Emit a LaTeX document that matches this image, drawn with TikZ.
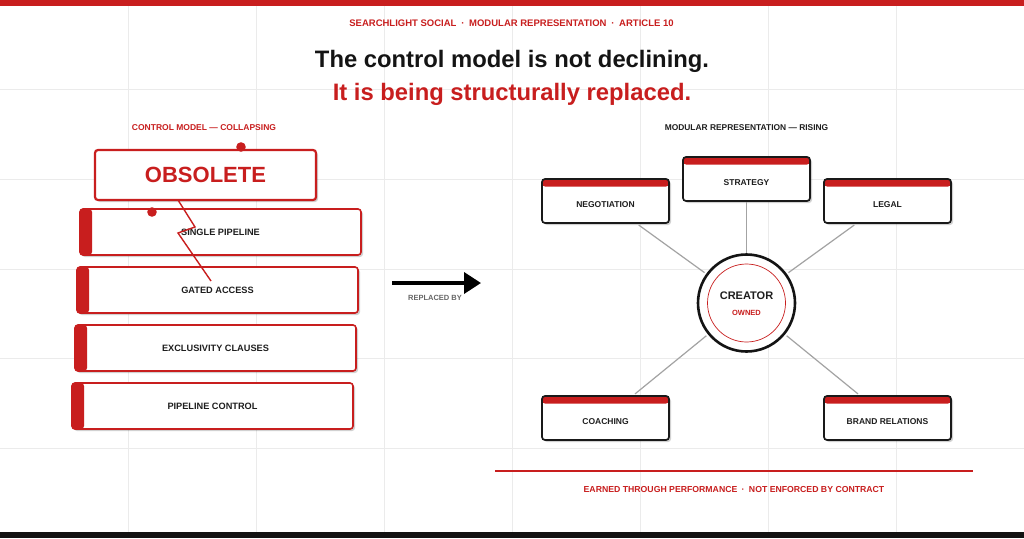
\documentclass[tikz,border=0pt]{standalone}
\usepackage{fontspec}
\setmainfont{Liberation Sans}
\usetikzlibrary{arrows.meta,shadows}
\definecolor{cred}{HTML}{C81E1E}
\definecolor{ink}{HTML}{1E1E1E}
\definecolor{gridc}{HTML}{EBEBEB}
\definecolor{spokec}{HTML}{A3A3A3}
\definecolor{graytxt}{HTML}{666666}
\begin{document}
\begin{tikzpicture}[x=1pt,y=-1pt,
  softshadow/.style={drop shadow={shadow xshift=2pt, shadow yshift=-2pt, fill=black, opacity=0.18}},
  oldbox/.style={draw=cred, line width=1.6pt, rounded corners=3pt, fill=white,
    minimum width=281pt, minimum height=46pt, inner sep=0pt,
    font=\fontsize{9.2}{11}\selectfont\bfseries, text=ink, softshadow,
    path picture={\fill[cred] (path picture bounding box.north west) rectangle ([xshift=12pt]path picture bounding box.south west);}},
  modbox/.style={draw=black!90, line width=1.7pt, rounded corners=3pt, fill=white,
    minimum width=127pt, minimum height=44pt, inner sep=0pt,
    font=\fontsize{8.5}{10}\selectfont\bfseries, text=ink, softshadow,
    path picture={\fill[cred] (path picture bounding box.north west) rectangle ([yshift=-7.5pt]path picture bounding box.north east);}},
  spoke/.style={draw=spokec, line width=1.2pt, shorten <=2pt, shorten >=2pt},
  txt/.style={anchor=base, inner sep=0pt}
]
\useasboundingbox (0,0) rectangle (1024,538);
\fill[white] (0,0) rectangle (1024,538);
% grid
\foreach \gx in {128,256,384,512,640,768,896} \draw[gridc, line width=0.9pt] (\gx,0) -- (\gx,538);
\foreach \gy in {89.7,179.3,269,358.7,448.3} \draw[gridc, line width=0.9pt] (0,\gy) -- (1024,\gy);
% bars
\fill[cred] (0,0) rectangle (1024,5.5);
\fill[black!93] (0,532) rectangle (1024,538);

% header and titles
\node[txt, text=cred, font=\fontsize{9.5}{11}\selectfont\bfseries] (hdr) at (511.5,27)
  {SEARCHLIGHT SOCIAL\enspace·\enspace MODULAR REPRESENTATION\enspace·\enspace ARTICLE 10};
\node[txt, text=black!92, font=\fontsize{23.8}{28}\selectfont\bfseries] (t1) at (512,67) {The control model is not declining.};
\node[txt, text=cred, font=\fontsize{23.8}{28}\selectfont\bfseries] (t2) at (512,100) {It is being structurally replaced.};

% left panel
\node[txt, text=cred, font=\fontsize{8.5}{10}\selectfont\bfseries] (lhead) at (204,130) {CONTROL MODEL — COLLAPSING};
\node[oldbox] (b1) at (220.5,232) {SINGLE PIPELINE};
\node[oldbox] (b2) at (217.5,290) {GATED ACCESS};
\node[oldbox] (b3) at (215.5,348) {EXCLUSIVITY CLAUSES};
\node[oldbox] (b4) at (212.5,406) {PIPELINE CONTROL};
\node[draw=cred, line width=2.2pt, rounded corners=3pt, fill=white, minimum width=221pt, minimum height=50pt,
  inner sep=0pt, text=cred, font=\fontsize{22}{26}\selectfont\bfseries, softshadow] (obs) at (205.5,175) {OBSOLETE};
\draw[cred, line width=1.4pt] (178,200) -- (195,227) -- (178,233) -- (211,281);
\fill[cred] (241,147) circle[radius=4.8pt];
\fill[cred] (152,212) circle[radius=4.8pt];

% arrow
\coordinate (arrS) at (392,283);
\coordinate (arrE) at (481,283);
\draw[black, line width=3.6pt, -{Triangle[length=17pt,width=21pt]}] (arrS) -- (arrE);
\node[txt, text=graytxt, font=\fontsize{7.5}{9}\selectfont\bfseries] (rep) at (435,300) {REPLACED BY};

% right panel
\node[txt, text=ink, font=\fontsize{8.4}{10}\selectfont\bfseries] (rhead) at (746.5,130) {MODULAR REPRESENTATION — RISING};
\node[circle, draw=black!92, line width=2.6pt, fill=white, minimum size=97pt, inner sep=0pt] (cre) at (746.5,303) {};
\draw[cred, line width=0.7pt] (cre.center) circle[radius=39pt];
\node[txt, text=ink, font=\fontsize{11}{13}\selectfont\bfseries] (creT) at (746.5,299) {CREATOR};
\node[txt, text=cred, font=\fontsize{7.5}{9}\selectfont\bfseries] (creS) at (746.5,315) {OWNED};

\node[modbox] (str) at (746.5,179) {\raisebox{-4pt}[\height][\depth]{STRATEGY}};
\node[modbox] (neg) at (605.5,201) {\raisebox{-4pt}[\height][\depth]{NEGOTIATION}};
\node[modbox] (leg) at (887.5,201) {\raisebox{-4pt}[\height][\depth]{LEGAL}};
\node[modbox] (coa) at (605.5,418) {\raisebox{-4pt}[\height][\depth]{COACHING}};
\node[modbox] (brd) at (887.5,418) {\raisebox{-4pt}[\height][\depth]{BRAND RELATIONS}};

\draw[spoke, shorten <=0pt, shorten >=0pt] (str) -- (cre);
\draw[spoke] (neg) -- (cre);
\draw[spoke] (leg) -- (cre);
\draw[spoke] (coa) -- (cre);
\draw[spoke] (brd) -- (cre);

% footer
\coordinate (fl) at (495,471);
\coordinate (fr) at (973,471);
\draw[cred, line width=1.4pt] (fl) -- (fr);
\node[txt, text=cred, font=\fontsize{8.7}{10}\selectfont\bfseries] (foot) at (734,492)
  {EARNED THROUGH PERFORMANCE\enspace·\enspace NOT ENFORCED BY CONTRACT};
\end{tikzpicture}
\end{document}
